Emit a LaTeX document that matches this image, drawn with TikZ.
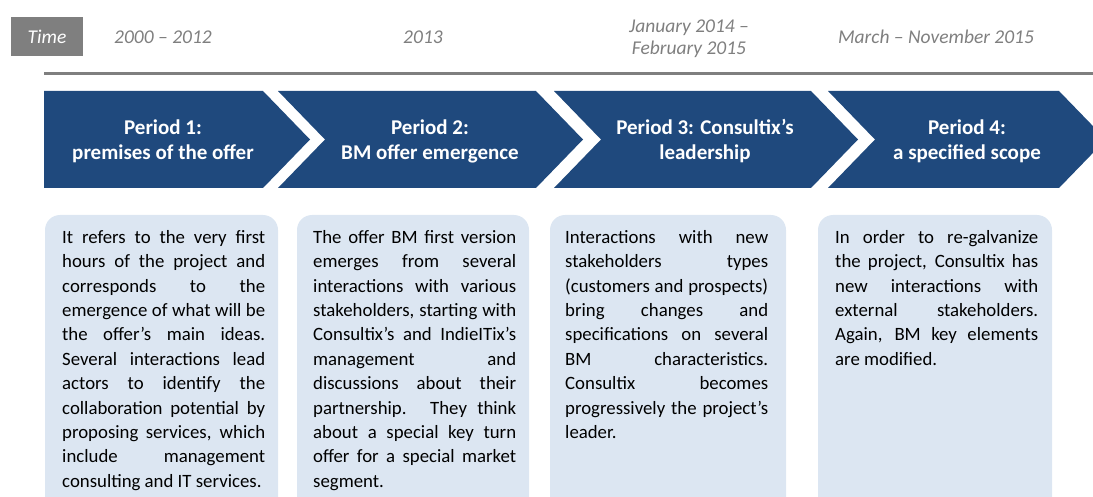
\documentclass[tikz,border=0pt]{standalone}
\usepackage{fontspec}
\setmainfont{Carlito}
\usetikzlibrary{calc}

\definecolor{chevronblue}{RGB}{31,73,125}
\definecolor{boxblue}{RGB}{220,230,242}
\definecolor{timegray}{RGB}{127,127,127}

\tikzset{
    datelabel/.style={text=timegray, font=\fontsize{19.5}{22}\selectfont\itshape, align=center},
    periodtitle/.style={text=white, font=\fontsize{21}{25}\selectfont\bfseries, align=center},
    periodtext/.style={anchor=north west, inner sep=0pt, text width=203pt, align=justify,
        font=\fontsize{18.8}{24.4}\selectfont},
}
\hbadness=10000
\hyphenpenalty=10000
\exhyphenpenalty=10000
\tolerance=10000\relax

\begin{document}
\begin{tikzpicture}[x=1pt, y=-1pt]
        \useasboundingbox (0,0) rectangle (1093,497);
        \clip (0,0) rectangle (1093,497);
        \pgfmathsetmacro{\chevTop}{91}
        \pgfmathsetmacro{\chevBot}{188}
        \pgfmathsetmacro{\chevMid}{139.5}
        \pgfmathsetmacro{\chevDepth}{47}

        % time axis
        \node[fill=timegray, text=white, font=\fontsize{19.5}{23}\selectfont\itshape,
            minimum width=72pt, minimum height=39pt, inner sep=0pt] (time) at (47,37) {Time};
        \node[datelabel] (date1) at (163,37) {2000 – 2012};
        \node[datelabel] (date2) at (423,37) {2013};
        \node[datelabel] (date3) at (689,39) {January 2014 –\\February 2015};
        \node[datelabel] (date4) at (936,37) {March – November 2015};
        \draw[timegray, line width=3pt] (44,73.5) -- (1093,73.5);

        % chevrons
        \fill[chevronblue] (44,\chevTop) -- (263,\chevTop) -- (263+\chevDepth,\chevMid)
            -- (263,\chevBot) -- (44,\chevBot) -- cycle;
        \foreach \xl/\xr in {278/536, 554/811, 828/1059}{
            \fill[chevronblue] (\xl,\chevTop) -- (\xr,\chevTop) -- (\xr+\chevDepth,\chevMid)
                -- (\xr,\chevBot) -- (\xl,\chevBot) -- (\xl+\chevDepth,\chevMid) -- cycle;
        }
        \foreach \n/\cx/\txt in {1/163/{Period 1:\\premises of the offer},
                                 2/430/{Period 2:\\BM offer emergence},
                                 3/705/{Period 3: Consultix’s\\leadership},
                                 4/967/{Period 4:\\a specified scope}}{
            \node[periodtitle] (title\n) at (\cx,\chevMid+1.5) {\txt};
        }

        % description boxes
        \foreach \xl/\xr in {45/278, 297/529, 550/786, 818/1052}{
            \fill[boxblue, rounded corners=15pt] (\xl,215) rectangle (\xr,530);
        }
        \node[periodtext] (text1) at (62,230) {It refers to the very first\linebreak
            hours of the project and\linebreak
            corresponds to the\linebreak
            emergence of what will be\linebreak
            the offer’s main ideas.\linebreak
            Several interactions lead\linebreak
            actors to identify the\linebreak
            collaboration potential by\linebreak
            proposing services, which\linebreak
            include management\linebreak
            consulting and IT services.};
        \node[periodtext] (text2) at (313,230) {The offer BM first version\linebreak
            emerges from several\linebreak
            interactions with various\linebreak
            stakeholders, starting with\linebreak
            Consultix’s and IndieITix’s\linebreak
            management and\linebreak
            discussions about their\linebreak
            partnership. They think\linebreak
            about a special key turn\linebreak
            offer for a special market\linebreak
            segment.};
        \node[periodtext] (text3) at (565,230) {Interactions with new\linebreak
            stakeholders types\linebreak
            (customers and prospects)\linebreak
            bring changes and\linebreak
            specifications on several\linebreak
            BM characteristics.\linebreak
            Consultix becomes\linebreak
            progressively the project’s\linebreak
            leader.};
        \node[periodtext] (text4) at (835,230) {In order to re-galvanize\linebreak
            the project, Consultix has\linebreak
            new interactions with\linebreak
            external stakeholders.\linebreak
            Again, BM key elements\linebreak
            are modified.};
    \end{tikzpicture}
\end{document}
